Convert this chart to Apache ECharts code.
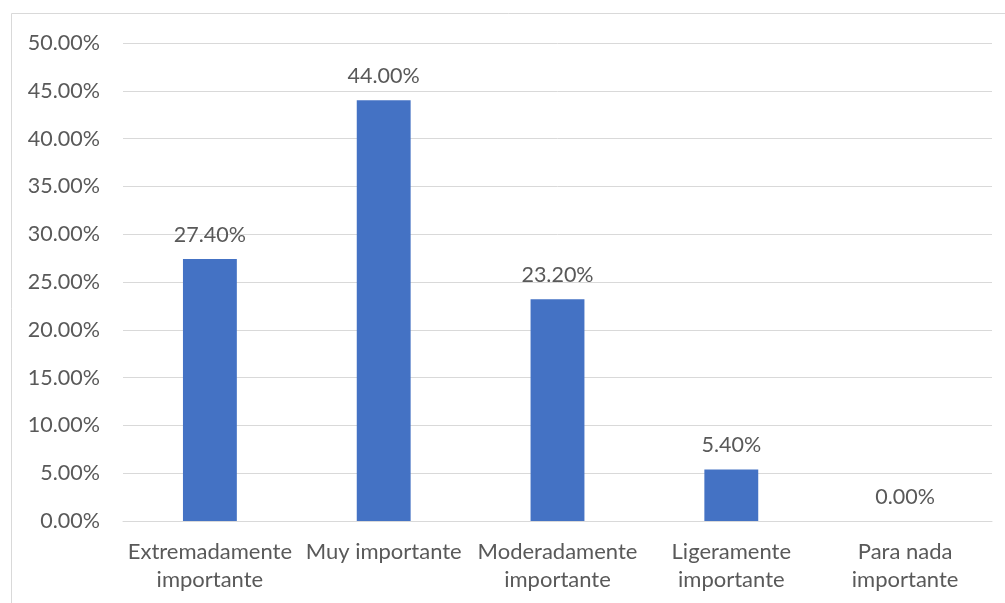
<!DOCTYPE html>
<html>
<head>
<meta charset="utf-8">
<script src="https://cdn.jsdelivr.net/npm/echarts@6/dist/echarts.min.js"></script>
<style>
  html, body { margin: 0; padding: 0; background: #fff; }
  #chart { width: 1005px; height: 603px; }
</style>
</head>
<body>
<div id="chart"></div>
<script>
// Importance ratings (percent of respondents)
const categories = [
  'Extremadamente\nimportante',
  'Muy importante',
  'Moderadamente\nimportante',
  'Ligeramente\nimportante',
  'Para nada\nimportante'
];
const percentages = [27.4, 44.0, 23.2, 5.4, 0.0];
const yMin = 0;
const yMax = 50;
const yStep = 5;

const textColor = '#595959';
const fontFamily = 'Lato, "Open Sans", sans-serif';

const chart = echarts.init(document.getElementById('chart'), null, { renderer: 'canvas' });

chart.setOption({
  animation: false,
  backgroundColor: '#ffffff',
  graphic: [{
    type: 'rect',
    shape: { x: 11.5, y: 13.5, width: 1010, height: 610 },
    style: { fill: 'none', stroke: '#d9d9d9', lineWidth: 1 },
    silent: true
  }],
  grid: { left: 123, right: 13, top: 43, bottom: 82, containLabel: false },
  xAxis: {
    type: 'category',
    data: categories,
    axisLine: { lineStyle: { color: '#d9d9d9', width: 1 } },
    axisTick: { show: false },
    axisLabel: {
      color: textColor,
      fontFamily: fontFamily,
      fontSize: 22,
      lineHeight: 28,
      margin: 17,
      interval: 0
    }
  },
  yAxis: {
    type: 'value',
    min: yMin,
    max: yMax,
    interval: yStep,
    axisLine: { show: false },
    axisTick: { show: false },
    splitLine: { lineStyle: { color: '#d9d9d9', width: 1 } },
    axisLabel: {
      color: textColor,
      fontFamily: fontFamily,
      fontSize: 21.5,
      margin: 23,
      formatter: v => v.toFixed(2) + '%'
    }
  },
  series: [{
    type: 'bar',
    data: percentages,
    barWidth: '31%',
    itemStyle: { color: '#4472C4' },
    label: {
      show: true,
      position: 'top',
      distance: 13,
      color: textColor,
      fontFamily: fontFamily,
      fontSize: 21.5,
      formatter: p => p.value.toFixed(2) + '%'
    }
  }]
});
</script>
</body>
</html>
